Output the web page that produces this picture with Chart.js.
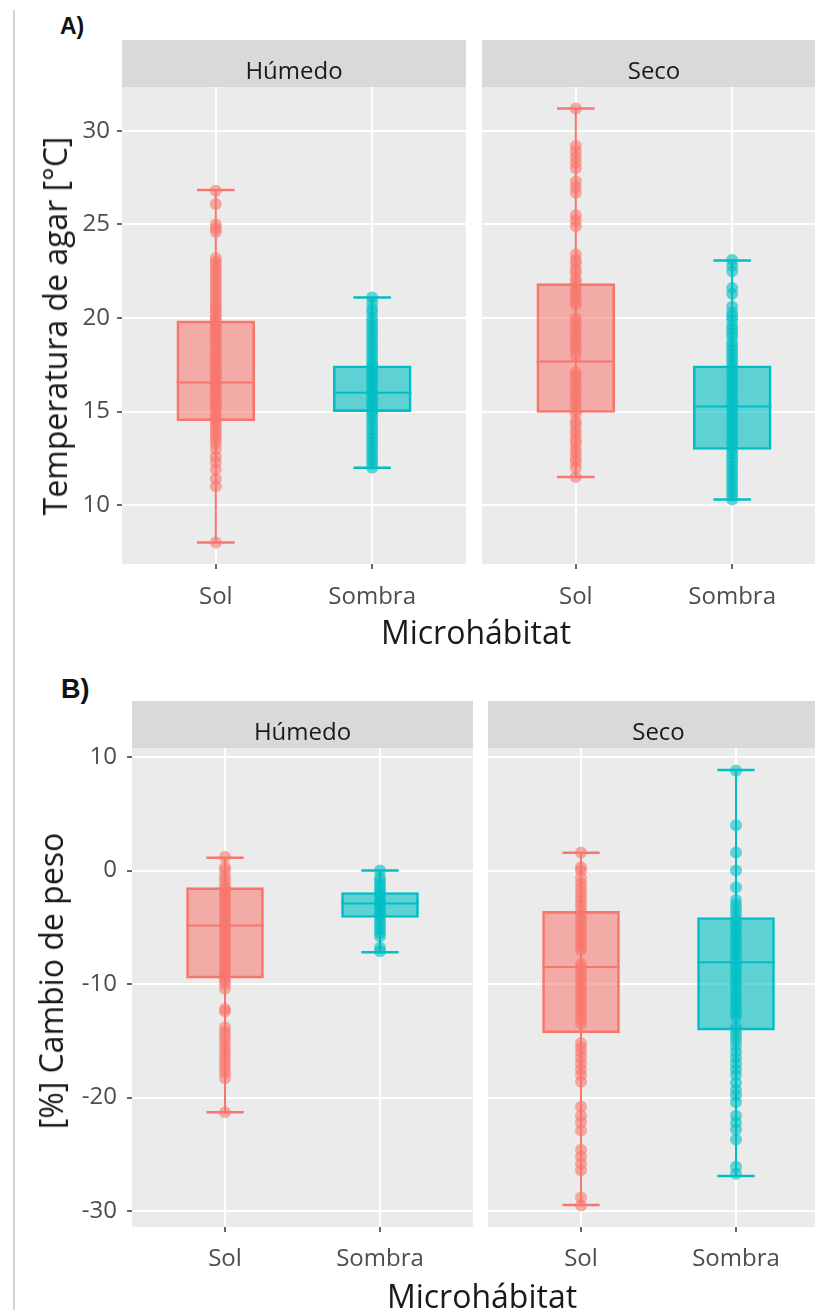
<!DOCTYPE html>
<html>
<head>
<meta charset="utf-8">
<script src="https://cdn.jsdelivr.net/npm/chart.js@4.4.0/dist/chart.umd.min.js"></script>
<style>
  html, body { margin: 0; padding: 0; background: #fff; overflow: hidden; }
  #page { position: relative; width: 815px; height: 1310px; overflow: hidden; font-family: "Open Sans", sans-serif; }
  canvas { position: absolute; }
  .edge { position: absolute; left: 13px; top: 10px; width: 2px; height: 1300px; background: #d2d2d2; }
  .tag { position: absolute; font-family: "Liberation Sans", Arial, sans-serif; font-weight: bold; color: #111; line-height: 1; }
  .title { position: absolute; white-space: nowrap; font-size: 32px; line-height: 1; color: #1a1a1a; transform: translate(-50%, -50%); }
  .ytitle { transform: translate(-50%, -50%) rotate(-90deg); }
</style>
</head>
<body>
<div id="page">
  <div class="edge"></div>
  <div class="tag" style="left:60px; top:15px; font-size:23px;">A)</div>
  <div class="tag" style="left:61px; top:676px; font-size:27px;">B)</div>

  <canvas id="tempHum" style="left:0; top:40px;" width="466" height="600"></canvas>
  <canvas id="tempSeco" style="left:474px; top:40px;" width="352" height="600"></canvas>
  <canvas id="weightHum" style="left:0; top:701px;" width="473" height="609"></canvas>
  <canvas id="weightSeco" style="left:480px; top:701px;" width="349" height="609"></canvas>

  <div class="title ytitle" style="left:55px; top:326px;">Temperatura de agar [°C]</div>
  <div class="title" style="left:476px; top:632px;">Microhábitat</div>
  <div class="title ytitle" style="left:51px; top:981px;">[%] Cambio de peso</div>
  <div class="title" style="left:482px; top:1296px;">Microhábitat</div>
</div>

<script>
// Facets and categories
const facets = ['Húmedo', 'Seco'];
const microhabitats = ['Sol', 'Sombra'];
const tempTicks = [10, 15, 20, 25, 30];
const weightTicks = [-30, -20, -10, 0, 10];

// Box statistics: [lower whisker, Q1, median, Q3, upper whisker]
const tempHumSolBox = [8.0, 14.5, 16.55, 19.85, 26.85];
const tempHumSombraBox = [12.0, 15.0, 16.0, 17.45, 21.1];
const tempSecoSolBox = [11.5, 14.95, 17.67, 21.84, 31.2];
const tempSecoSombraBox = [10.3, 12.97, 15.27, 17.45, 23.07];
const weightHumSolBox = [-21.3, -9.47, -4.84, -1.5, 1.14];
const weightHumSombraBox = [-7.2, -4.13, -2.9, -1.93, 0.0];
const weightSecoSolBox = [-29.47, -14.3, -8.5, -3.6, 1.58];
const weightSecoSombraBox = [-26.9, -14.05, -8.07, -4.13, 8.86];

const tempHumSol = [26.8, 26.1, 25.0, 24.8, 24.6, 23.2, 23.0, 22.8, 22.6, 22.4, 22.2, 22.0, 21.8, 21.6, 21.4,
  21.2, 21.0, 20.8, 20.6, 20.5, 20.3, 20.1, 20.0, 19.8, 19.6, 19.5, 19.3, 19.1, 19.0, 18.8, 18.6, 18.4, 18.2,
  18.0, 17.8, 17.7, 17.5, 17.3, 17.1, 17.0, 16.8, 16.7, 16.5, 16.4, 16.2, 16.0, 15.9, 15.7, 15.5, 15.4, 15.2,
  15.0, 14.8, 14.6, 14.5, 14.3, 14.1, 13.9, 13.7, 13.5, 13.3, 13.0, 12.6, 12.3, 11.9, 11.4, 11.0, 8.0];
const tempHumSombra = [21.1, 20.8, 20.5, 20.3, 20.0, 19.8, 19.6, 19.4, 19.2, 19.0, 18.8, 18.6, 18.4, 18.2, 18.0,
  17.8, 17.6, 17.5, 17.3, 17.1, 17.0, 16.8, 16.6, 16.5, 16.3, 16.1, 16.0, 15.8, 15.6, 15.5, 15.3, 15.1, 15.0,
  14.8, 14.6, 14.4, 14.2, 14.0, 13.8, 13.6, 13.4, 13.2, 13.0, 12.8, 12.6, 12.4, 12.2, 12.0];
const tempSecoSol = [31.2, 29.2, 28.9, 28.6, 28.3, 28.0, 27.3, 27.0, 26.7, 25.5, 25.2, 24.9, 23.4, 23.1, 22.9,
  22.6, 22.4, 22.1, 21.9, 21.6, 21.4, 21.1, 20.9, 20.7, 20.0, 19.8, 19.5, 19.3, 19.0, 18.8, 18.5, 18.3, 18.0,
  17.1, 16.9, 16.6, 16.4, 16.1, 15.9, 15.6, 15.4, 15.1, 14.9, 14.5, 14.3, 14.0, 13.8, 13.5, 13.3, 13.0, 12.8,
  12.5, 12.3, 12.0, 11.5];
const tempSecoSombra = [23.1, 22.8, 22.5, 21.6, 21.3, 20.6, 20.3, 20.1, 19.9, 19.6, 19.4, 19.2, 19.0, 18.7, 18.5,
  18.3, 18.1, 17.9, 17.7, 17.5, 17.3, 17.1, 16.9, 16.7, 16.5, 16.3, 16.1, 15.9, 15.7, 15.5, 15.3, 15.1, 14.9,
  14.7, 14.5, 14.3, 14.1, 13.9, 13.7, 13.5, 13.3, 13.1, 12.9, 12.7, 12.5, 12.3, 12.1, 11.9, 11.7, 11.5, 11.3,
  11.1, 10.9, 10.7, 10.5, 10.3];
const weightHumSol = [1.2, 0.3, 0.0, -0.5, -0.9, -1.3, -1.6, -1.9, -2.2, -2.5, -2.8, -3.1, -3.4, -3.7, -4.0,
  -4.3, -4.6, -4.9, -5.2, -5.5, -5.8, -6.1, -6.4, -6.7, -7.0, -7.3, -7.6, -7.9, -8.2, -8.5, -8.8, -9.1, -9.4,
  -9.7, -10.0, -10.4, -12.2, -12.4, -13.8, -14.2, -14.6, -15.0, -15.4, -15.8, -16.2, -16.6, -17.0, -17.4,
  -17.8, -18.3, -21.3];
const weightHumSombra = [0.0, -0.6, -0.9, -1.2, -1.5, -1.8, -2.0, -2.3, -2.5, -2.8, -3.0, -3.3, -3.5, -3.8,
  -4.0, -4.3, -4.6, -4.9, -5.2, -5.5, -5.8, -6.8, -7.1];
const weightSecoSol = [1.6, 0.3, 0.0, -0.6, -1.1, -1.5, -1.9, -2.3, -2.7, -3.1, -3.5, -3.9, -4.3, -4.7, -5.1,
  -5.5, -5.9, -6.3, -6.7, -7.0, -8.2, -8.6, -9.0, -9.4, -9.8, -10.2, -10.6, -11.0, -11.4, -11.8, -12.2, -12.6,
  -13.0, -13.5, -15.2, -15.6, -16.0, -16.5, -17.0, -17.5, -18.0, -18.6, -20.8, -21.6, -22.2, -22.9, -24.6,
  -25.2, -25.8, -26.4, -28.8, -29.5];
const weightSecoSombra = [8.8, 4.0, 1.6, 0.0, -1.5, -2.6, -3.0, -3.4, -3.8, -4.2, -4.6, -5.0, -5.4, -5.8, -6.2,
  -6.6, -7.0, -7.4, -7.8, -8.2, -8.6, -9.0, -9.4, -9.8, -10.2, -10.6, -11.0, -11.4, -11.8, -12.2, -12.6, -12.9,
  -13.8, -14.2, -14.6, -15.0, -15.5, -16.0, -16.5, -17.0, -17.5, -18.0, -18.7, -19.3, -19.8, -20.4, -21.6,
  -22.2, -22.8, -23.7, -26.1, -26.7];

// Styles
const lineColors = ['#F8766D', '#00BFC4'];
const boxFills = ['rgba(248,118,109,0.55)', 'rgba(0,191,196,0.6)'];
const dotColors = ['rgba(248,118,109,0.6)', 'rgba(0,191,196,0.6)'];
const STRIP_H = 47;
const HALF_BOX = 0.25;
const HALF_CAP = 0.12;

Chart.defaults.font.family = '"Open Sans", sans-serif';

// Draws the grey panel background and the facet strip
const panelPlugin = {
  id: 'panel',
  beforeDraw(chart, args, opts) {
    const { ctx, chartArea: a } = chart;
    ctx.save();
    ctx.fillStyle = '#EBEBEB';
    ctx.fillRect(a.left, a.top, a.right - a.left, a.bottom - a.top);
    ctx.fillStyle = '#D9D9D9';
    ctx.fillRect(a.left, a.top - STRIP_H, a.right - a.left, STRIP_H);
    ctx.fillStyle = '#1A1A1A';
    ctx.font = '24px "Open Sans"';
    ctx.textAlign = 'center';
    ctx.textBaseline = 'alphabetic';
    ctx.fillText(opts.text, (a.left + a.right) / 2, a.top - STRIP_H + 38.5);
    ctx.restore();
  }
};

function buildDatasets(boxes, points, boxPx) {
  const datasets = [];
  // boxes as floating bars (Q1..Q3)
  datasets.push({
    type: 'bar',
    data: boxes.map((b, i) => ({ x: i + 1, y: [b[1], b[3]] })),
    backgroundColor: boxFills,
    borderColor: lineColors,
    borderWidth: 2,
    borderSkipped: false,
    barThickness: boxPx,
    order: 5
  });
  boxes.forEach((b, i) => {
    const x = i + 1;
    const [lo, , med, , hi] = b;
    const seg = (pts, w, order) => ({
      type: 'line', data: pts, borderColor: lineColors[i], borderWidth: w,
      pointRadius: 0, fill: false, order
    });
    datasets.push(seg([{ x, y: lo }, { x, y: hi }], 2, 3));
    datasets.push(seg([{ x: x - HALF_CAP, y: lo }, { x: x + HALF_CAP, y: lo }], 2.5, 3));
    datasets.push(seg([{ x: x - HALF_CAP, y: hi }, { x: x + HALF_CAP, y: hi }], 2.5, 3));
    datasets.push(seg([{ x: x - HALF_BOX, y: med }, { x: x + HALF_BOX, y: med }], 2, 2));
    datasets.push({
      type: 'scatter',
      data: points[i].map(v => ({ x, y: v })),
      backgroundColor: dotColors[i],
      borderWidth: 0,
      pointRadius: 6,
      order: 1
    });
  });
  return datasets;
}

function facetChart(id, cfg) {
  const canvas = document.getElementById(id);
  return new Chart(canvas, {
    type: 'bar',
    data: { datasets: buildDatasets(cfg.boxes, cfg.points, cfg.boxPx) },
    plugins: [panelPlugin],
    options: {
      responsive: false,
      animation: false,
      events: [],
      layout: { autoPadding: false, padding: { top: STRIP_H, left: 0, right: 0, bottom: 0 } },
      plugins: {
        legend: { display: false },
        tooltip: { enabled: false },
        panel: { text: cfg.strip }
      },
      scales: {
        x: {
          type: 'linear',
          min: 0.4,
          max: 2.6,
          offset: false,
          afterBuildTicks: s => { s.ticks = microhabitats.map((m, i) => ({ value: i + 1 })); },
          afterFit: s => { s.height = cfg.xHeight; s.paddingLeft = 0; s.paddingRight = 0; },
          ticks: {
            callback: v => microhabitats[v - 1],
            color: '#4D4D4D',
            font: { size: 24 },
            padding: cfg.xPad,
            maxRotation: 0
          },
          grid: { offset: false, color: '#FFFFFF', lineWidth: 2, tickColor: '#333333', tickLength: 5, tickWidth: 1.5 },
          border: { display: false }
        },
        y: {
          type: 'linear',
          min: cfg.yMin,
          max: cfg.yMax,
          afterBuildTicks: s => { s.ticks = cfg.yTicks.map(v => ({ value: v })); },
          afterFit: s => { s.width = cfg.yWidth; s.paddingTop = 0; s.paddingBottom = 0; },
          ticks: {
            display: cfg.showY,
            color: '#4D4D4D',
            font: { size: 24 },
            padding: cfg.yPad
          },
          grid: { color: '#FFFFFF', lineWidth: 2, drawTicks: cfg.showY, tickColor: '#333333', tickLength: 5, tickWidth: 1.5 },
          border: { display: false }
        }
      }
    }
  });
}

const tempCommon = { yMin: 6.85, yMax: 32.35, yTicks: tempTicks, xHeight: 76, xPad: 14, yPad: 7, boxPx: 78 };
facetChart('tempHum', Object.assign({}, tempCommon, {
  strip: facets[0], showY: true, yWidth: 122,
  boxes: [tempHumSolBox, tempHumSombraBox], points: [tempHumSol, tempHumSombra]
}));
facetChart('tempSeco', Object.assign({}, tempCommon, {
  strip: facets[1], showY: false, yWidth: 8,
  boxes: [tempSecoSolBox, tempSecoSombraBox], points: [tempSecoSol, tempSecoSombra]
}));

const weightCommon = { yMin: -31.4, yMax: 10.8, yTicks: weightTicks, xHeight: 83, xPad: 13, yPad: 10, boxPx: 77 };
facetChart('weightHum', Object.assign({}, weightCommon, {
  strip: facets[0], showY: true, yWidth: 132,
  boxes: [weightHumSolBox, weightHumSombraBox], points: [weightHumSol, weightHumSombra]
}));
facetChart('weightSeco', Object.assign({}, weightCommon, {
  strip: facets[1], showY: false, yWidth: 8,
  boxes: [weightSecoSolBox, weightSecoSombraBox], points: [weightSecoSol, weightSecoSombra]
}));
</script>
</body>
</html>
